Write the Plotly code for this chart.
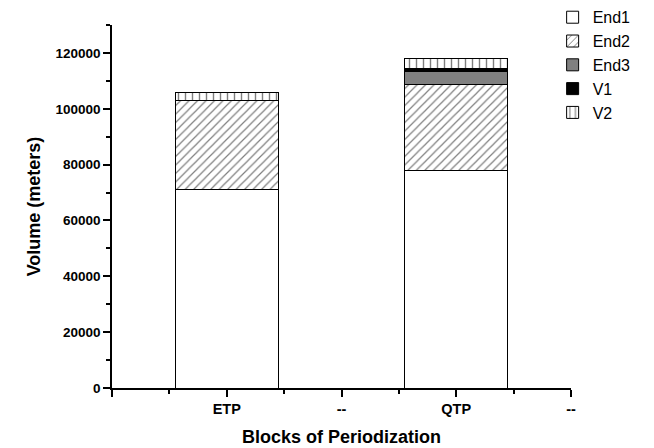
import plotly.graph_objects as go

categories = ["ETP", "--", "QTP", "--"]
bar_categories = ["ETP", "QTP"]
series_names = ["End1", "End2", "End3", "V1", "V2"]
end1 = [71000, 78000]
end2 = [32000, 30800]
end3 = [0, 4500]
v1 = [0, 1000]
v2 = [3000, 3600]
yticks = [0, 20000, 40000, 60000, 80000, 100000, 120000]

values = [end1, end2, end3, v1, v2]
styles = [
    dict(color="white", pattern=dict(shape="")),
    dict(color="white", pattern=dict(shape="/", fgcolor="black", bgcolor="white", size=6, solidity=0.2)),
    dict(color="#808080", pattern=dict(shape="")),
    dict(color="black", pattern=dict(shape="")),
    dict(color="white", pattern=dict(shape="|", fgcolor="black", bgcolor="white", size=7, solidity=0.2)),
]

xpos = [categories.index(c) + 1 for c in bar_categories]

fig = go.Figure()
for name, vals, st in zip(series_names, values, styles):
    fig.add_trace(go.Bar(
        x=xpos, y=vals, name=name, width=0.9,
        marker=dict(color=st["color"], pattern=st["pattern"],
                    line=dict(color="black", width=1)),
    ))

font = "Liberation Sans, Arial, sans-serif"
fig.update_layout(
    width=646, height=440,
    barmode="stack",
    plot_bgcolor="white", paper_bgcolor="white",
    margin=dict(l=104, r=83, t=17, b=60, autoexpand=False),
    font=dict(family=font, color="black"),
    showlegend=True,
    legend=dict(x=0.96, y=1.068, xanchor="left", yanchor="top",
                traceorder="normal", font=dict(size=16, family=font),
                bgcolor="rgba(0,0,0,0)", itemwidth=30),
    xaxis=dict(
        range=[0, 4], tickvals=[0, 1, 2, 3, 4],
        ticktext=[""] + categories,
        ticks="outside", ticklen=7, tickwidth=1.5, tickcolor="black",
        showline=True, linecolor="black", linewidth=1.5,
        showgrid=False, zeroline=False,
        tickfont=dict(size=14.5, family=font, weight="bold"),
        minor=dict(dtick=0.5, tick0=0, ticks="outside", ticklen=4, tickcolor="black", tickwidth=1.5),
        title=dict(text="<b>Blocks of Periodization</b>", font=dict(size=18), standoff=14),
    ),
    yaxis=dict(
        range=[0, 130000], tickvals=yticks,
        ticktext=[str(t) for t in yticks],
        ticks="outside", ticklen=7, tickwidth=1.5, tickcolor="black",
        showline=True, linecolor="black", linewidth=1.5,
        showgrid=False, zeroline=False,
        tickfont=dict(size=13.5, family=font, weight="bold"),
        minor=dict(dtick=10000, tick0=0, ticks="outside", ticklen=4, tickcolor="black", tickwidth=1.5),
        title=dict(text="<b>Volume (meters)</b>", font=dict(size=18), standoff=10),
    ),
)

fig.write_html("out.html")
